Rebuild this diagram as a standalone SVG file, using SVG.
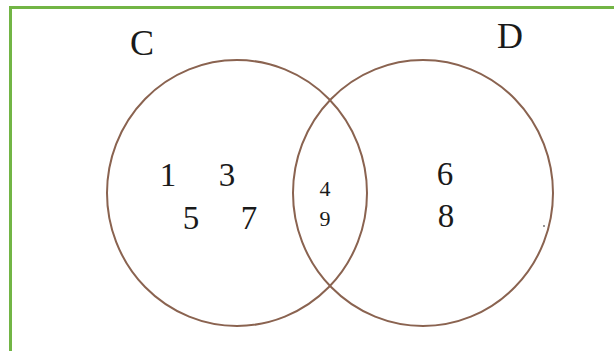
<svg xmlns="http://www.w3.org/2000/svg" width="614" height="351" viewBox="0 0 614 351">
<style>
.set{fill:none;stroke:#8a6350;stroke-width:2}
.lbl{font-family:"Liberation Serif","Times New Roman",serif;fill:#1a1a1a;text-anchor:middle}
.big{font-size:36px}
.num{font-size:33px}
.sm{font-size:22px}
</style>
<rect width="614" height="351" fill="#ffffff"/>
<rect x="10.5" y="7.5" width="620" height="360" fill="none" stroke="#72b545" stroke-width="3"/>
<g id="setC">
<ellipse class="set" cx="237" cy="193" rx="130" ry="133"/>
<text class="lbl big" x="142" y="55">C</text>
<text class="lbl num" x="168" y="186">1</text>
<text class="lbl num" x="227" y="186">3</text>
<text class="lbl num" x="191" y="229">5</text>
<text class="lbl num" x="249" y="229">7</text>
</g>
<g id="setD">
<ellipse class="set" cx="423" cy="193" rx="130" ry="133"/>
<text class="lbl big" x="510" y="48">D</text>
<text class="lbl num" x="445" y="185">6</text>
<text class="lbl num" x="446" y="227">8</text>
</g>
<g id="intersection">
<text class="lbl sm" x="325" y="196">4</text>
<text class="lbl sm" x="325" y="226">9</text>
</g>
<circle cx="544" cy="226" r="0.9" fill="#666"/>
</svg>
